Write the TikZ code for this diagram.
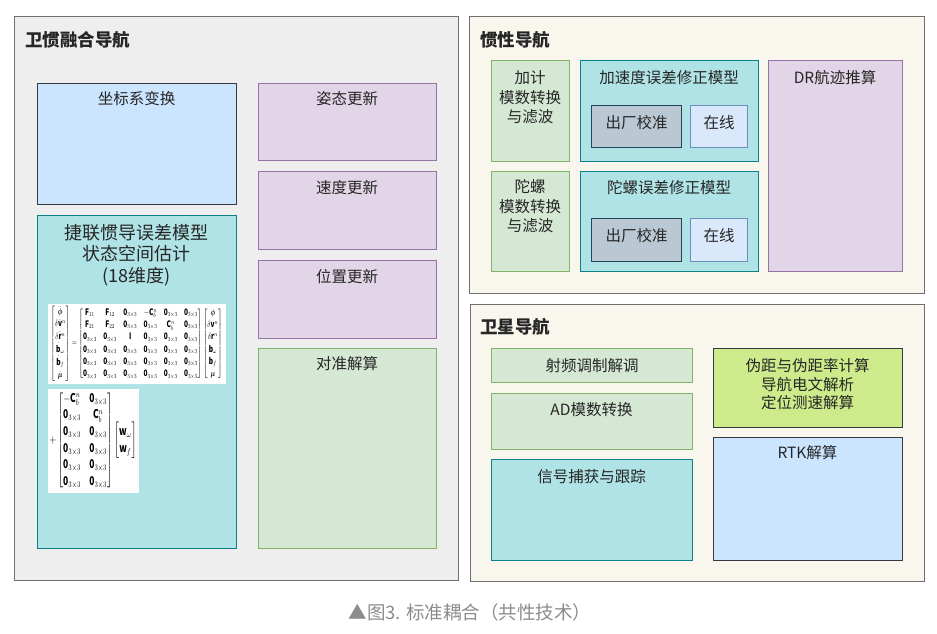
\documentclass[tikz,border=0pt]{standalone}
\usepackage{amsmath}
\usepackage{graphicx}
\usepackage{fontspec}
\setmainfont{Noto Sans CJK SC}
\usetikzlibrary{positioning}
\definecolor{txt}{HTML}{262626}
\definecolor{grnF}{HTML}{D5E8D4}\definecolor{grnD}{HTML}{82B366}
\definecolor{purF}{HTML}{E1D5E7}\definecolor{purD}{HTML}{9673A6}
\definecolor{tealF}{HTML}{B0E3E6}\definecolor{tealD}{HTML}{0E8088}
\definecolor{lbF}{HTML}{CCE5FF}\definecolor{dkD}{HTML}{36393D}
\definecolor{sgF}{HTML}{BAC8D3}\definecolor{sgD}{HTML}{23445D}
\definecolor{blF}{HTML}{DAE8FC}\definecolor{blD}{HTML}{6C8EBF}
\definecolor{limeF}{HTML}{CDEB8B}
\definecolor{outL}{HTML}{EEEEEE}\definecolor{outR}{HTML}{F9F7ED}
\definecolor{outD}{HTML}{6F6F6F}
\definecolor{capC}{HTML}{8C8C8C}
\tikzset{
  box/.style={draw, line width=1.1pt, anchor=north west, inner sep=0pt},
  outer/.style={box, draw=outD, line width=1.4pt},
  greenbox/.style={box, fill=grnF, draw=grnD},
  purplebox/.style={box, fill=purF, draw=purD},
  tealbox/.style={box, fill=tealF, draw=tealD},
  lightbluebox/.style={box, fill=lbF, draw=dkD},
  slatebox/.style={box, fill=sgF, draw=sgD},
  bluebox/.style={box, fill=blF, draw=blD},
  limebox/.style={box, fill=limeF, draw=dkD},
  lbl/.style={anchor=north, inner sep=0pt, text=txt, align=center,
    font=\fontsize{15.5pt}{19.5pt}\selectfont},
  ttl/.style={anchor=north west, inner sep=0pt, text=txt,
    font=\fontsize{17.5pt}{20pt}\selectfont\bfseries},
  mid/.style={inner sep=0pt, text=txt, font=\fontsize{15.5pt}{20pt}\selectfont},
  mathbox/.style={inner sep=0pt, text=black,
    execute at begin node={\renewcommand{\arraystretch}{1.15}}}
}
\begin{document}
\begin{tikzpicture}[x=1pt,y=-1pt]
\useasboundingbox (0,0) rectangle (937,634);
% ---------- left group ----------
\node[outer, fill=outL, minimum width=444, minimum height=564] (gL) at (14,16) {};
\node[ttl] (tL) at (25,31) {卫惯融合导航};
\node[lightbluebox, minimum width=199, minimum height=121] (zb) at (37,83) {};
\node[lbl] (zbt) at (136.5,91.5) {坐标系变换};
\node[tealbox, minimum width=199, minimum height=333] (jl) at (37,215) {};
\node[lbl, font=\fontsize{18pt}{21.5pt}\selectfont] (jlt) at (136.5,224) {捷联惯导误差模型\\状态空间估计\\(18维度)};
\node[box, draw=none, fill=white, minimum width=178, minimum height=80] (m1) at (47,303) {};
\node[mathbox] (m1c) at (m1.center) {\resizebox*{172pt}{75pt}{$
\begin{bmatrix}\dot{\boldsymbol\phi}\\ \delta\dot{\mathbf v}^n\\ \delta\dot{\mathbf r}^n\\ \dot{\mathbf b}_\omega\\ \dot{\mathbf b}_f\\ \dot{\boldsymbol\mu}\end{bmatrix}
=\begin{bmatrix}
\mathbf F_{11}&\mathbf F_{12}&\mathbf 0_{3\times3}&-\mathbf C_b^n&\mathbf 0_{3\times3}&\mathbf 0_{3\times3}\\
\mathbf F_{21}&\mathbf F_{22}&\mathbf 0_{3\times3}&\mathbf 0_{3\times3}&\mathbf C_b^n&\mathbf 0_{3\times3}\\
\mathbf 0_{3\times3}&\mathbf 0_{3\times3}&\mathbf I&\mathbf 0_{3\times3}&\mathbf 0_{3\times3}&\mathbf 0_{3\times3}\\
\mathbf 0_{3\times3}&\mathbf 0_{3\times3}&\mathbf 0_{3\times3}&\mathbf 0_{3\times3}&\mathbf 0_{3\times3}&\mathbf 0_{3\times3}\\
\mathbf 0_{3\times3}&\mathbf 0_{3\times3}&\mathbf 0_{3\times3}&\mathbf 0_{3\times3}&\mathbf 0_{3\times3}&\mathbf 0_{3\times3}\\
\mathbf 0_{3\times3}&\mathbf 0_{3\times3}&\mathbf 0_{3\times3}&\mathbf 0_{3\times3}&\mathbf 0_{3\times3}&\mathbf 0_{3\times3}
\end{bmatrix}
\begin{bmatrix}\boldsymbol\phi\\ \delta\mathbf v^n\\ \delta\mathbf r^n\\ \mathbf b_\omega\\ \mathbf b_f\\ \boldsymbol\mu\end{bmatrix}$}};
\node[box, draw=none, fill=white, minimum width=91, minimum height=104] (m2) at (47,388) {};
\node[mathbox] (m2c) at (m2.center) {\resizebox*{87pt}{100pt}{$+
\begin{bmatrix}-\mathbf C_b^n&\mathbf 0_{3\times3}\\
\mathbf 0_{3\times3}&\mathbf C_b^n\\
\mathbf 0_{3\times3}&\mathbf 0_{3\times3}\\
\mathbf 0_{3\times3}&\mathbf 0_{3\times3}\\
\mathbf 0_{3\times3}&\mathbf 0_{3\times3}\\
\mathbf 0_{3\times3}&\mathbf 0_{3\times3}\end{bmatrix}
\begin{bmatrix}\mathbf w_\omega\\ \mathbf w_f\end{bmatrix}$}};
\node[purplebox, minimum width=178, minimum height=77] (zt) at (258,83) {};
\node[lbl] (ztt) at (347,91) {姿态更新};
\node[purplebox, minimum width=178, minimum height=78] (sd) at (258,171) {};
\node[lbl] (sdt) at (347,180) {速度更新};
\node[purplebox, minimum width=178, minimum height=78] (wz) at (258,260) {};
\node[lbl] (wzt) at (347,269) {位置更新};
\node[greenbox, minimum width=178, minimum height=200] (dz) at (258,348) {};
\node[lbl] (dzt) at (347,356.5) {对准解算};
% ---------- inertial group ----------
\node[outer, fill=outR, minimum width=455, minimum height=277] (gI) at (469,16) {};
\node[ttl] (tI) at (480,31) {惯性导航};
\node[greenbox, minimum width=78, minimum height=101] (jj) at (491,60) {};
\node[lbl] (jjt) at (530,70.5) {加计\\模数转换\\与滤波};
\node[greenbox, minimum width=78, minimum height=100] (tl) at (491,171) {};
\node[lbl] (tlt) at (530,179.5) {陀螺\\模数转换\\与滤波};
\node[tealbox, minimum width=178, minimum height=101] (ja) at (580,60) {};
\node[lbl] (jat) at (669,70.5) {加速度误差修正模型};
\node[slatebox, minimum width=90, minimum height=42] (c1) at (591,105) {};
\node[mid, yshift=4pt] (c1t) at (c1.center) {出厂校准};
\node[bluebox, minimum width=57, minimum height=42] (o1) at (690,105) {};
\node[mid, yshift=4pt] (o1t) at (o1.center) {在线};
\node[tealbox, minimum width=178, minimum height=100] (tg) at (580,171) {};
\node[lbl] (tgt) at (669,180.5) {陀螺误差修正模型};
\node[slatebox, minimum width=90, minimum height=43] (c2) at (591,218) {};
\node[mid, yshift=4pt] (c2t) at (c2.center) {出厂校准};
\node[bluebox, minimum width=57, minimum height=43] (o2) at (690,218) {};
\node[mid, yshift=4pt] (o2t) at (o2.center) {在线};
\node[purplebox, minimum width=134, minimum height=211] (dr) at (768,60) {};
\node[lbl] (drt) at (835,70.5) {DR航迹推算};
% ---------- satellite group ----------
\node[outer, fill=outR, minimum width=454, minimum height=277] (gS) at (470,304) {};
\node[ttl] (tS) at (480,318) {卫星导航};
\node[greenbox, minimum width=201, minimum height=34] (sp) at (491,348) {};
\node[mid] (spt) at (sp.center) {射频调制解调};
\node[greenbox, minimum width=201, minimum height=56] (ad) at (491,393) {};
\node[lbl] (adt) at (591.5,402.5) {AD模数转换};
\node[tealbox, minimum width=201, minimum height=101] (xh) at (491,459) {};
\node[lbl] (xht) at (591.5,469.5) {信号捕获与跟踪};
\node[limebox, minimum width=189, minimum height=79] (wj) at (713,348) {};
\node[lbl, font=\fontsize{15.5pt}{18.5pt}\selectfont] (wjt) at (807.5,358.5) {伪距与伪距率计算\\导航电文解析\\定位测速解算};
\node[lightbluebox, minimum width=189, minimum height=123] (rtk) at (713,437) {};
\node[lbl] (rtkt) at (807.5,445.5) {RTK解算};
% ---------- caption ----------
\node[inner sep=0pt, text=capC, font=\fontsize{18.5pt}{22pt}\selectfont] (cap) at (470,612) {▲图3. 标准耦合（共性技术）};
\end{tikzpicture}
\end{document}
